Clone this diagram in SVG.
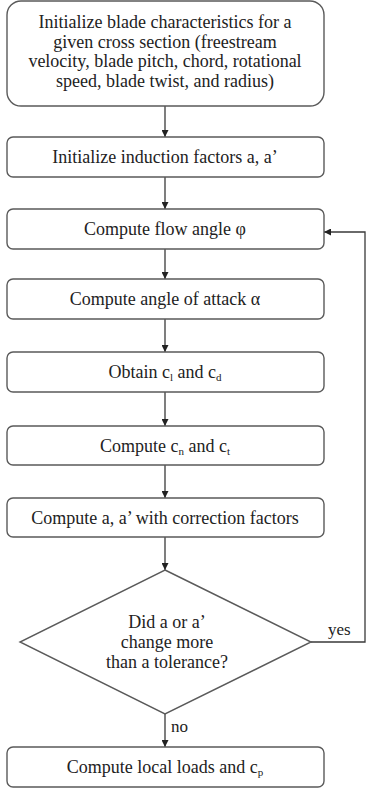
<svg xmlns="http://www.w3.org/2000/svg" width="366" height="792" viewBox="0 0 366 792">
  <style>
    .box { fill: #ffffff; stroke: #5a5a5a; stroke-width: 1.4; }
    .lbl { font-size: 18px; fill: #222; text-anchor: middle; }
    .tag { font-size: 17px; fill: #222; }
    .sub { font-size: 11px; }
    .wire { fill: none; stroke: #3a3a3a; stroke-width: 1.3; }
  </style>
  <defs>
    <marker id="head" viewBox="0 0 10 10" refX="10" refY="5" markerWidth="7" markerHeight="7" markerUnits="userSpaceOnUse" orient="auto">
      <path d="M0,0 L10,5 L0,10 z" fill="#222"/>
    </marker>
  </defs>
  <rect width="366" height="792" fill="#ffffff"/>

  <g font-family="'Liberation Serif', 'Times New Roman', Times, 'DejaVu Serif', serif">
  <g id="connectors">
    <line class="wire" x1="165" y1="106" x2="165" y2="137" marker-end="url(#head)"/>
    <line class="wire" x1="165" y1="177" x2="165" y2="209" marker-end="url(#head)"/>
    <line class="wire" x1="165" y1="249" x2="165" y2="279" marker-end="url(#head)"/>
    <line class="wire" x1="165" y1="319" x2="165" y2="352" marker-end="url(#head)"/>
    <line class="wire" x1="165" y1="392" x2="165" y2="426" marker-end="url(#head)"/>
    <line class="wire" x1="165" y1="465" x2="165" y2="498" marker-end="url(#head)"/>
    <line class="wire" x1="165" y1="537" x2="165" y2="570" marker-end="url(#head)"/>
    <line class="wire" x1="165" y1="714" x2="165" y2="747" marker-end="url(#head)"/>
    <polyline class="wire" points="311,642 365,642 365,232 324,232" marker-end="url(#head)"/>
    <text class="tag" x="328" y="635">yes</text>
    <text class="tag" x="171" y="732">no</text>
  </g>

  <g id="init-blade">
    <rect class="box" x="7" y="1" width="317" height="105" rx="14"/>
    <text class="lbl" x="165" y="28">Initialize blade characteristics for a</text>
    <text class="lbl" x="165" y="48">given cross section (freestream</text>
    <text class="lbl" x="165" y="67">velocity, blade pitch, chord, rotational</text>
    <text class="lbl" x="165" y="87">speed, blade twist, and radius)</text>
  </g>

  <g id="init-induction">
    <rect class="box" x="7" y="137" width="317" height="40" rx="6"/>
    <text class="lbl" x="165" y="163">Initialize induction factors a, a’</text>
  </g>

  <g id="flow-angle">
    <rect class="box" x="7" y="209" width="317" height="40" rx="6"/>
    <text class="lbl" x="165" y="235">Compute flow angle φ</text>
  </g>

  <g id="attack-angle">
    <rect class="box" x="7" y="279" width="317" height="40" rx="6"/>
    <text class="lbl" x="165" y="305">Compute angle of attack α</text>
  </g>

  <g id="lift-drag">
    <rect class="box" x="7" y="352" width="317" height="40" rx="6"/>
    <text class="lbl" x="165" y="378">Obtain c<tspan class="sub" dy="3">l</tspan><tspan dy="-3"> and c</tspan><tspan class="sub" dy="3">d</tspan></text>
  </g>

  <g id="normal-tangential">
    <rect class="box" x="7" y="426" width="317" height="39" rx="6"/>
    <text class="lbl" x="165" y="452">Compute c<tspan class="sub" dy="3">n</tspan><tspan dy="-3"> and c</tspan><tspan class="sub" dy="3">t</tspan></text>
  </g>

  <g id="correction">
    <rect class="box" x="7" y="498" width="317" height="39" rx="6"/>
    <text class="lbl" x="165" y="524">Compute a, a’ with correction factors</text>
  </g>

  <g id="tolerance-check">
    <polygon class="box" points="165,570 311,642 165,714 20,642"/>
    <text class="lbl" x="167" y="628">Did a or a’</text>
    <text class="lbl" x="167" y="648">change more</text>
    <text class="lbl" x="167" y="668">than a tolerance?</text>
  </g>

  <g id="local-loads">
    <rect class="box" x="7" y="747" width="317" height="40" rx="6"/>
    <text class="lbl" x="165" y="773">Compute local loads and c<tspan class="sub" dy="3">p</tspan></text>
  </g>
  </g>
</svg>
